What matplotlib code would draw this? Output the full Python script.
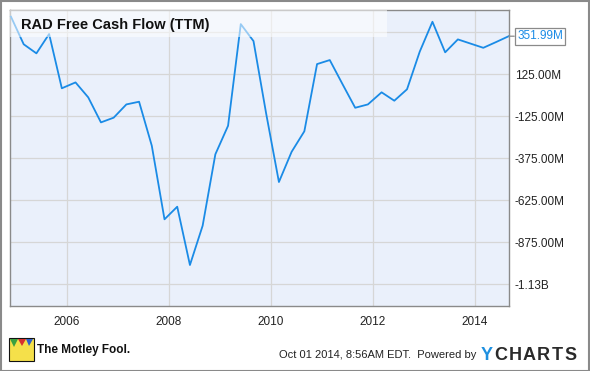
import matplotlib
matplotlib.use("Agg")
import matplotlib.pyplot as plt
import matplotlib.dates as mdates
from matplotlib.patches import Rectangle, Polygon
import pandas as pd

plt.rcParams['font.family'] = ['Liberation Sans', 'DejaVu Sans']

# RAD free cash flow (TTM), fiscal quarter ends, millions USD
quarter_ends = [
    "2004-11-27", "2005-02-26", "2005-05-28", "2005-08-27",
    "2005-11-26", "2006-03-04", "2006-06-03", "2006-09-02",
    "2006-12-02", "2007-03-03", "2007-06-02", "2007-09-01",
    "2007-12-01", "2008-03-01", "2008-05-31", "2008-08-30",
    "2008-11-29", "2009-02-28", "2009-05-30", "2009-08-29",
    "2009-11-28", "2010-02-27", "2010-05-29", "2010-08-28",
    "2010-11-27", "2011-02-26", "2011-05-28", "2011-08-27",
    "2011-11-26", "2012-03-03", "2012-06-02", "2012-09-01",
    "2012-12-01", "2013-03-02", "2013-06-01", "2013-08-31",
    "2013-11-30", "2014-03-01", "2014-05-31", "2014-08-30",
]
fcf = [468, 304, 250, 365, 42, 77, -12, -161, -133, -54,
       -38, -300, -738, -663, -1010, -776, -351, -181, 424, 323,
       -110, -516, -336, -214, 186, 210, 67, -74, -54, 18,
       -32, 36, 260, 438, 256, 333, 308, 283, 317, 351.99]
ytick_vals = [375, 125, -125, -375, -625, -875, -1125]
ytick_labels = ["", "125.00M", "-125.00M", "-375.00M", "-625.00M", "-875.00M", "-1.13B"]

dates = pd.to_datetime(quarter_ends)

W, H = 590, 371
fig = plt.figure(figsize=(W / 100, H / 100), dpi=100)
fig.patch.set_facecolor("white")

# plot area in pixels: x 10..509, y 10..306
ax = fig.add_axes([10 / W, (H - 306) / H, 499 / W, 296 / H])
ax.set_facecolor("#eaf0fb")

line_col = "#1a8be6"
ax.plot(dates, fcf, color=line_col, lw=1.3, zorder=3, clip_on=False)

ax.set_xlim(pd.Timestamp("2004-11-20"), pd.Timestamp("2014-09-01"))
ax.set_ylim(-1254, 508)

ax.xaxis.set_major_locator(mdates.YearLocator(2))
ax.xaxis.set_major_formatter(mdates.DateFormatter("%Y"))
ax.yaxis.tick_right()
ax.set_yticks(ytick_vals)
ax.set_yticklabels(ytick_labels)
ax.tick_params(axis="both", length=0, labelsize=8.5, colors="#222222")
ax.tick_params(axis="x", pad=7)
ax.tick_params(axis="y", pad=4)
ax.grid(True, color="#d6d6d6", lw=0.9)
ax.set_axisbelow(True)
for s in ax.spines.values():
    s.set_color("#8a8a8a")
    s.set_linewidth(1.0)

# translucent title box
ax.add_patch(Rectangle((0, 1 - 27 / 296), 377 / 499, 27 / 296, transform=ax.transAxes,
                       facecolor="white", alpha=0.55, edgecolor="none", zorder=4))
ax.text(11 / 499, 1 - 15 / 296, "RAD Free Cash Flow (TTM)", transform=ax.transAxes,
        fontsize=10.5, fontweight="bold", color="#111111", va="center", ha="left", zorder=5)

# last value label with small pointer
last = fcf[-1]
ax.annotate(f"{last:.2f}M", xy=(dates[-1], last), xytext=(6, 0), textcoords="offset points",
            va="center", ha="left", fontsize=8.5, color=line_col, annotation_clip=False,
            bbox=dict(boxstyle="square,pad=0.2", facecolor="white", edgecolor="#8a8a8a", lw=0.9),
            arrowprops=dict(arrowstyle="-", color="#8a8a8a", lw=0.9, shrinkA=0, shrinkB=0))

# footer
fig.text(37 / W, 1 - 350 / H, "The Motley Fool.", fontsize=8.5, fontweight="bold",
         color="#111111", va="center", ha="left")
fig.text(476 / W, 1 - 355 / H, "Oct 01 2014, 8:56AM EDT.  Powered by", fontsize=8,
         color="#222222", va="center", ha="right")
yc = "YCHARTS"
for i, ch in enumerate(yc):
    fig.text((487 + i * 14) / W, 1 - 355 / H, ch, fontsize=13, fontweight="bold",
             color="#1e90e0" if i == 0 else "#2a2a2a", va="center", ha="center")

# simple jester logo
lx0, ly0, lw_, lh_ = 9, 338, 25, 23
fig.patches.append(Rectangle((lx0 / W, 1 - (ly0 + lh_) / H), lw_ / W, lh_ / H,
                             transform=fig.transFigure, facecolor="#f5e04a",
                             edgecolor="#111111", lw=0.8))
fig.patches.append(Polygon([((lx0 + 1) / W, 1 - (ly0 + 1) / H), ((lx0 + 9) / W, 1 - (ly0 + 1) / H),
                            ((lx0 + 5) / W, 1 - (ly0 + 9) / H)], closed=True,
                           transform=fig.transFigure, facecolor="#3aa040", edgecolor="none"))
fig.patches.append(Polygon([((lx0 + 9) / W, 1 - (ly0 + 1) / H), ((lx0 + 17) / W, 1 - (ly0 + 1) / H),
                            ((lx0 + 13) / W, 1 - (ly0 + 8) / H)], closed=True,
                           transform=fig.transFigure, facecolor="#d83030", edgecolor="none"))
fig.patches.append(Polygon([((lx0 + 17) / W, 1 - (ly0 + 1) / H), ((lx0 + 24) / W, 1 - (ly0 + 1) / H),
                            ((lx0 + 20) / W, 1 - (ly0 + 8) / H)], closed=True,
                           transform=fig.transFigure, facecolor="#3060c8", edgecolor="none"))

# outer border
fig.patches.append(Rectangle((0.5 / W, 0.5 / H), (W - 1.5) / W, (H - 1.5) / H,
                             transform=fig.transFigure, facecolor="none",
                             edgecolor="#8a8a8a", lw=1.5))

fig.savefig("out.png", dpi=100)
